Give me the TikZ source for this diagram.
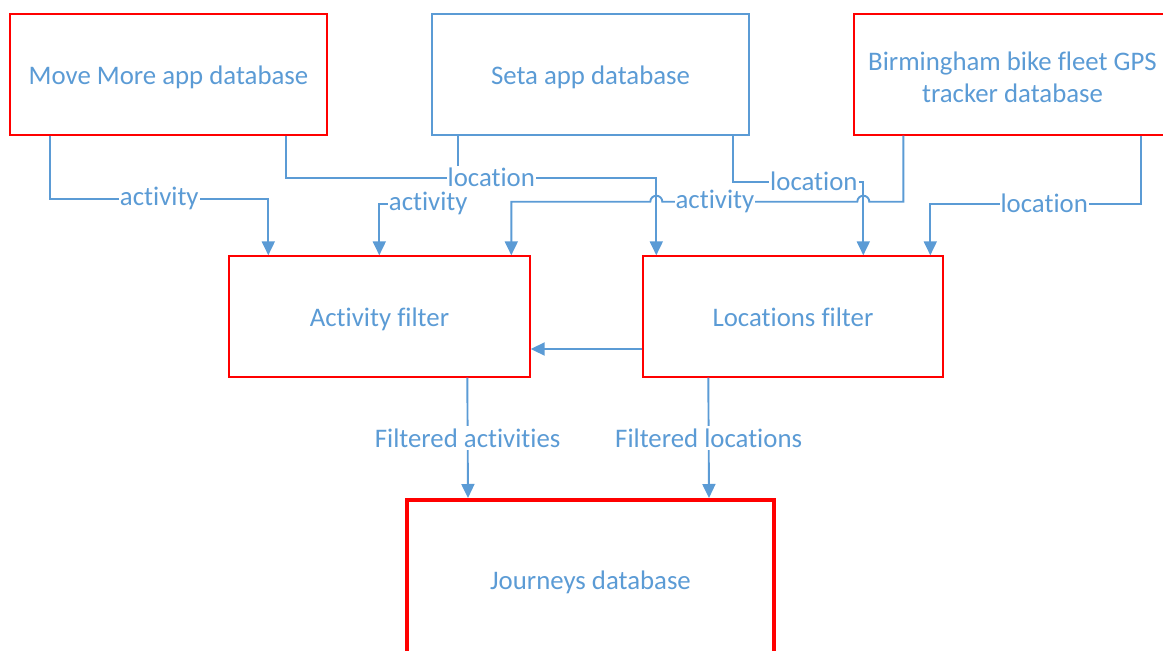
\documentclass[tikz,border=0pt]{standalone}
\usepackage{fontspec}
\setmainfont{Carlito}[Ligatures=NoCommon]
\usetikzlibrary{arrows.meta,calc}
\definecolor{lblue}{HTML}{5B9BD5}
\definecolor{bred}{HTML}{FF0000}
\begin{document}
\begin{tikzpicture}[x=1pt,y=-1pt,
  box/.style={draw=bred,line width=1.4pt,minimum width=317pt,minimum height=121pt,text=lblue,font=\fontsize{26.8}{32}\selectfont,align=center,inner sep=0pt},
  oneline/.style={text height=25pt,text depth=5.5pt},
  conn/.style={draw=lblue,line width=1.9pt,-{Triangle[width=13pt,length=14pt]}},
  lbl/.style={fill=white,text=lblue,font=\fontsize{26.8}{32}\selectfont,inner xsep=1pt,inner ysep=2.5pt}]
\useasboundingbox (0,0) rectangle (1163,651);
% boxes
\node[box,oneline] (mm) at (168.5,74.5) {Move More app database};
\node[box,oneline,draw=lblue] (seta) at (590.5,74.5) {Seta app database};
\node[box] (bg) at (1012.5,74.5) {\rule{0pt}{24pt}Birmingham bike fleet GPS\\tracker database};
\node[box,oneline,minimum width=301pt] (af) at (379.5,316.5) {Activity filter};
\node[box,oneline,minimum width=300pt] (lf) at (793,316.5) {Locations filter};
\node[box,oneline,line width=4pt,minimum width=367pt,minimum height=160pt] (jd) at (590.5,580) {Journeys database};
% helper coordinates
\coordinate (h1) at ([xshift=227pt]lf.north west);
\coordinate (h2) at ([xshift=20pt]lf.north west);
\coordinate (h3) at ([xshift=283pt]af.north west);
% Seta -> Activity filter
\draw[conn] ([xshift=27pt]seta.south west) -- ++(0,68) -| node[lbl,pos=0.19]{activity} ([xshift=151pt]af.north west);
% Move More -> Activity filter
\draw[conn] ([xshift=41pt]mm.south west) -- ++(0,63) -| node[lbl,pos=0.25]{activity} ([xshift=40pt]af.north west);
% Move More -> Locations filter
\draw[conn] ([xshift=277pt]mm.south west) -- ++(0,42) -| node[lbl,pos=0.277]{location} ([xshift=14pt]lf.north west);
% Seta -> Locations filter
\draw[conn] ([xshift=302pt]seta.south west) -- ++(0,46) -| node[lbl,pos=0.31]{location} ([xshift=221pt]lf.north west);
% Birmingham -> Activity filter (with hops)
\draw[conn] ([xshift=50pt]bg.south west) -- ++(0,66) coordinate (ba)
  -- (h1 |- ba) arc[start angle=0,end angle=180,radius=6pt]
  -- node[lbl,pos=0.73]{activity} (h2 |- ba) arc[start angle=0,end angle=180,radius=6pt]
  -- (h3 |- ba) -- (h3);
% Birmingham -> Locations filter
\draw[conn] ([xshift=288pt]bg.south west) -- ++(0,68) -| node[lbl,pos=0.23]{location} ([xshift=288pt]lf.north west);
% Locations filter -> Activity filter
\draw[conn] ([yshift=-32.5pt]lf.west) -- ([yshift=-32.5pt]af.east);
% Filters -> Journeys
\draw[conn] ([xshift=239pt]af.south west) -- node[lbl]{Filtered activities} ([xshift=63pt]jd.north west);
\draw[conn] ([xshift=66pt]lf.south west) -- node[lbl]{Filtered locations} ([xshift=304pt]jd.north west);
\end{tikzpicture}
\end{document}
